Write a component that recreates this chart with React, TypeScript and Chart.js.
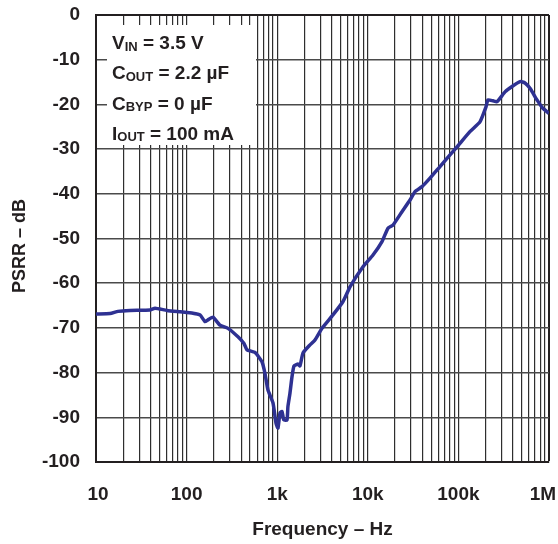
import React, { useEffect, useRef } from "react";
import { Chart, registerables } from "chart.js";

Chart.register(...registerables);

// Frequency (Hz) of each traced point
const freqHz = [
  10, 14.3, 17.5, 23.7, 39.4, 44.8, 60.8, 84.6, 117.7, 140.7, 159.7, 172.3, 195.6,
  233.6, 286.2, 369, 430, 464, 569, 679, 733, 791, 899, 970, 1020, 1074, 1130, 1183,
  1283, 1313, 1383, 1457, 1532, 1697, 1785, 1927, 2301, 2614, 3120, 4126, 5323, 6361,
  8852, 11410, 14340, 16710, 18970, 23850, 29230, 33190, 39650, 48600, 62600, 96500,
  134000, 173000, 202000, 212000, 241000, 267000, 327000, 390600, 479000, 543000,
  617000, 737000, 850000, 1000000,
];

// PSRR (dB) at each frequency
const psrrDb = [
  -66.9, -66.8, -66.3, -66.1, -66.0, -65.6, -66.1, -66.4, -66.7, -67.1, -68.6, -68.2, -67.6,
  -69.4, -70.1, -72.0, -73.5, -74.9, -75.5, -77.6, -80.2, -83.9, -86.8, -91.3, -92.4, -89.0,
  -88.7, -90.6, -90.6, -87.6, -84.6, -80.9, -78.5, -78.1, -78.5, -75.6, -73.8, -72.7, -70.1,
  -67.1, -64.1, -60.8, -56.3, -53.7, -50.7, -47.7, -47.0, -44.0, -41.4, -39.5, -38.4, -36.5,
  -33.9, -29.5, -26.1, -23.9, -20.5, -19.0, -19.2, -19.4, -17.2, -16.0, -14.9, -15.2, -16.4,
  -19.0, -20.8, -22.0,
];

const decadeValues = [10, 100, 1000, 10000, 100000, 1000000];
const decadeLabels = ["10", "100", "1k", "10k", "100k", "1M"];
const gridMultipliers = [1, 2, 3, 4, 5, 6, 7, 8, 9];

const yMin = -100;
const yMax = 0;
const yStep = 10;

const conditionLines = [
  ["V", "IN", " = 3.5 V"],
  ["C", "OUT", " = 2.2 µF"],
  ["C", "BYP", " = 0 µF"],
  ["I", "OUT", " = 100 mA"],
];

const xTitle = "Frequency – Hz";
const yTitle = "PSRR – dB";

const FONT = "'Liberation Sans', Arial, Helvetica, sans-serif";
const LINE_COLOR = "#2e3192";
const VGRID_COLOR = "#2e2e2e";
const HGRID_COLOR = "#4a4a4a";
const FRAME_COLOR = "#231f20";

const conditionsPlugin = {
  id: "conditionsBox",
  beforeDraw(chart: any) {
    const s = chart.scales.x;
    const items = s.getLabelItems();
    items.forEach((it: any) => {
      if (it._shifted) return;
      if (it.label === "1M") it.options.translation[0] -= 6;
      if (it.label === "10") it.options.translation[0] += 2;
      it._shifted = true;
    });
  },
  beforeDatasetsDraw(chart: any) {
    const { ctx, chartArea } = chart;
    const bx = chartArea.left + 11;
    const by = chartArea.top + 10;
    ctx.save();
    ctx.fillStyle = "#ffffff";
    ctx.fillRect(bx, by, 149, 120);
    ctx.fillStyle = "#231f20";
    ctx.textBaseline = "alphabetic";
    ctx.textAlign = "left";
    const x0 = chartArea.left + 16;
    conditionLines.forEach((parts, i) => {
      const base = chartArea.top + 34 + i * 30.3;
      let x = x0;
      ctx.font = `bold 19px ${FONT}`;
      ctx.fillText(parts[0], x, base);
      x += ctx.measureText(parts[0]).width;
      ctx.font = `bold 13px ${FONT}`;
      ctx.fillText(parts[1], x, base + 1.5);
      x += ctx.measureText(parts[1]).width;
      ctx.font = `bold 19px ${FONT}`;
      ctx.fillText(parts[2], x, base);
    });
    ctx.restore();
  },
};

export default function App() {
  const canvasRef = useRef<HTMLCanvasElement | null>(null);

  useEffect(() => {
    const canvas = canvasRef.current;
    if (!canvas) return;
    const gridTicks: number[] = [];
    decadeValues.forEach((d, di) => {
      if (di === decadeValues.length - 1) {
        gridTicks.push(d);
        return;
      }
      gridMultipliers.forEach((m) => gridTicks.push(d * m));
    });

    const chart = new Chart(canvas, {
      type: "line",
      data: {
        datasets: [
          {
            data: freqHz.map((f, i) => ({ x: f, y: psrrDb[i] })),
            borderColor: LINE_COLOR,
            borderWidth: 3.5,
            pointRadius: 0,
            tension: 0.15,
            fill: false,
          },
        ],
      },
      options: {
        responsive: false,
        animation: false,
        devicePixelRatio: 1,
        layout: { padding: { top: 15, right: 9, left: 0, bottom: 0 } },
        plugins: {
          legend: { display: false },
          tooltip: { enabled: false },
        },
        scales: {
          x: {
            type: "logarithmic",
            min: 10,
            max: 1000000,
            afterBuildTicks: (scale: any) => {
              scale.ticks = gridTicks.map((v) => ({ value: v, major: decadeValues.includes(v) }));
            },
            afterFit: (scale: any) => {
              scale.height = 82;
              scale.paddingLeft = 0;
              scale.paddingRight = 0;
            },
            ticks: {
              autoSkip: false,
              maxRotation: 0,
              minRotation: 0,
              padding: 21,
              color: "#231f20",
              font: { family: FONT, size: 19, weight: "bold" },
              callback: (value: any) => {
                const v = Number(value);
                const i = decadeValues.findIndex((d) => Math.abs(d - v) / d < 1e-6);
                return i >= 0 ? decadeLabels[i] : "";
              },
            },
            grid: {
              drawTicks: false,
              color: (c: any) => (c.tick && c.tick.value === 1000000 ? FRAME_COLOR : VGRID_COLOR),
              lineWidth: (c: any) => (c.tick && c.tick.value === 1000000 ? 2 : 1.2),
            },
            border: { display: true, color: FRAME_COLOR, width: 2 },
            title: {
              display: true,
              text: xTitle,
              color: "#231f20",
              font: { family: FONT, size: 19, weight: "bold" },
              padding: { top: 0, bottom: 3 },
            },
          },
          y: {
            type: "linear",
            min: yMin,
            max: yMax,
            afterFit: (scale: any) => {
              scale.width = 96;
              scale.paddingTop = 0;
              scale.paddingBottom = 0;
            },
            ticks: {
              stepSize: yStep,
              padding: 16,
              color: "#231f20",
              font: { family: FONT, size: 19, weight: "bold" },
            },
            grid: {
              drawTicks: false,
              color: (c: any) => (c.tick && c.tick.value === 0 ? FRAME_COLOR : HGRID_COLOR),
              lineWidth: (c: any) => (c.tick && c.tick.value === 0 ? 2 : 1.6),
            },
            border: { display: true, color: FRAME_COLOR, width: 2 },
            title: {
              display: true,
              text: yTitle + "   ",
              color: "#231f20",
              font: { family: FONT, size: 18, weight: "bold" },
              padding: { top: 9, bottom: 0 },
            },
          },
        },
      },
      plugins: [conditionsPlugin],
    } as any);

    return () => chart.destroy();
  }, []);

  return (
    <div style={{ position: "fixed", left: 0, top: 0, width: 558, height: 544, background: "#fff" }}>
      <canvas ref={canvasRef} width={558} height={544} style={{ display: "block" }} />
    </div>
  );
}
